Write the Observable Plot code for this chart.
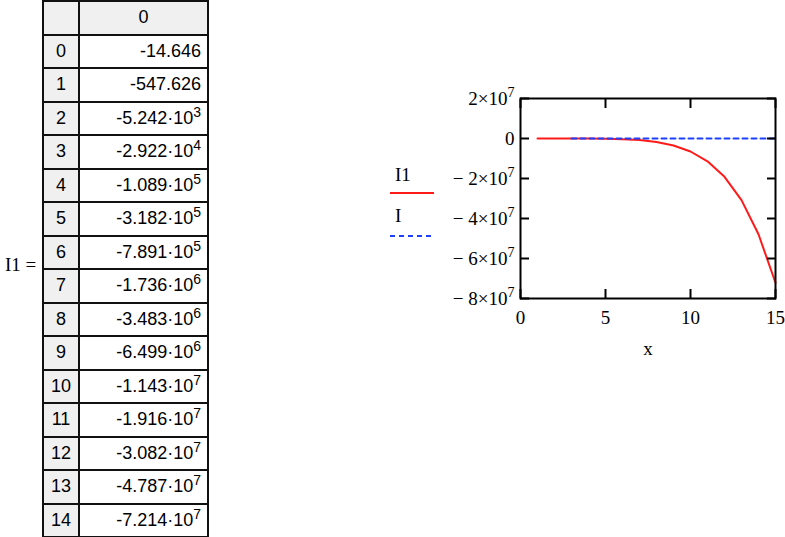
<!DOCTYPE html>
<html>
<head>
<meta charset="utf-8">
<script src="https://cdn.jsdelivr.net/npm/d3@7"></script>
<script src="https://cdn.jsdelivr.net/npm/@observablehq/plot@0.6"></script>
<style>
  html, body { margin: 0; padding: 0; background: #fff; }
  #page { position: relative; width: 785px; height: 537px; overflow: hidden; background: #fff; }
  #tbl { position: absolute; left: 42px; top: 0px; border-collapse: collapse; font-family: "Liberation Sans", Arial, sans-serif; font-size: 18px; color: #000; }
  #tbl td { border: 2px solid #111; height: 33.5px; padding: 0; box-sizing: border-box; }
  #tbl td.idx { width: 36px; background: #f0f0f0; text-align: center; }
  #tbl td.val { width: 129px; text-align: right; padding-right: 6px; }
  #tbl td.hdr { background: #f0f0f0; text-align: center; padding-right: 0; }
  #tbl sup { font-size: 14px; vertical-align: 7px; line-height: 0; }
  #eq { position: absolute; left: 5px; top: 254px; font-family: "Liberation Serif", "Times New Roman", serif; font-size: 19px; }
  #chart { position: absolute; left: 420px; top: 80px; }
  .leg { position: absolute; font-family: "Liberation Serif", "Times New Roman", serif; font-size: 19px; }
</style>
</head>
<body>
<div id="page">
  <table id="tbl"></table>
  <div id="eq">I1 =</div>
  <div class="leg" style="left:395px; top:164px;">I1</div>
  <div class="leg" style="left:395px; top:205px;">I</div>
  <svg style="position:absolute; left:388px; top:188px;" width="48" height="10">
    <line x1="2" x2="46" y1="5" y2="5" stroke="#ff1a1a" stroke-width="2"></line>
  </svg>
  <svg style="position:absolute; left:388px; top:231px;" width="48" height="10">
    <line x1="2" x2="46" y1="5" y2="5" stroke="#1f3fff" stroke-width="2" stroke-dasharray="5,4"></line>
  </svg>
  <div id="chart"></div>
</div>
<script>
// ---- data ----
const rowIndex = [0, 1, 2, 3, 4, 5, 6, 7, 8, 9, 10, 11, 12, 13, 14];
const xValues = [1, 2, 3, 4, 5, 6, 7, 8, 9, 10, 11, 12, 13, 14, 15];
const I1Values = [-14.646, -547.626, -5242, -29220, -108900, -318200, -789100,
  -1736000, -3483000, -6499000, -11430000, -19160000, -30820000, -47870000, -72140000];
const IxValues = [3, 4, 5, 6, 7, 8, 9, 10, 11, 12, 13, 14, 15];
const IValues = [0, 0, 0, 0, 0, 0, 0, 0, 0, 0, 0, 0, 0];
const xTicks = [0, 5, 10, 15];
const yTicks = [20000000, 0, -20000000, -40000000, -60000000, -80000000];
const yTickLabels = ["2×10", "0", "− 2×10", "− 4×10", "− 6×10", "− 8×10"];
const yTickExponents = ["7", "", "7", "7", "7", "7"];
const columnHeader = "0";

// ---- table ----
function fmt(v) {
  const a = Math.abs(v);
  if (a < 1000) return d3.format(".3f")(v).replace("−", "-");
  const e = Math.floor(Math.log10(a));
  const m = v / Math.pow(10, e);
  return m.toFixed(3) + "·10<sup>" + e + "</sup>";
}
const tbl = d3.select("#tbl");
const hdr = tbl.append("tr");
hdr.append("td").attr("class", "idx");
hdr.append("td").attr("class", "val hdr").text(columnHeader);
rowIndex.forEach((r, i) => {
  const tr = tbl.append("tr");
  tr.append("td").attr("class", "idx").text(r);
  tr.append("td").attr("class", "val").html(fmt(I1Values[i]));
});

// ---- chart ----
const lineData = xValues.map((x, i) => ({x, y: I1Values[i]}));
const iData = IxValues.map((x, i) => ({x, y: IValues[i]}));

const chart = Plot.plot({
  width: 365, height: 290,
  marginLeft: 100, marginRight: 10, marginTop: 18, marginBottom: 72,
  style: {fontFamily: "'Liberation Serif', 'Times New Roman', serif", fontSize: "19px", color: "#000", background: "transparent", overflow: "visible"},
  x: {domain: [0, 15], label: null},
  y: {domain: [-80000000, 20000000], label: null},
  marks: [
    Plot.line(lineData, {x: "x", y: "y", stroke: "#ff1a1a", strokeWidth: 2}),
    Plot.line(iData, {x: "x", y: "y", stroke: "#1f3fff", strokeWidth: 2, strokeDasharray: "5,4"}),
    Plot.frame({stroke: "#000", strokeWidth: 2}),
    Plot.axisX(xTicks, {anchor: "bottom", tickSize: -9, fill: "none", strokeWidth: 2}),
    Plot.axisX(xTicks, {anchor: "top", tickSize: -9, fill: "none", strokeWidth: 2}),
    Plot.axisY(yTicks, {anchor: "left", tickSize: -9, fill: "none", strokeWidth: 2}),
    Plot.axisY(yTicks, {anchor: "right", tickSize: -9, fill: "none", strokeWidth: 2}),
    Plot.axisX(xTicks, {anchor: "bottom", tickSize: 0, tickPadding: 12, fontSize: 19}),
    Plot.axisY(yTicks, {anchor: "left", tickSize: 0, tickPadding: 6, fontSize: 19,
      tickFormat: d => yTickLabels[yTicks.indexOf(d)] + "\u0001" + yTickExponents[yTicks.indexOf(d)]}),
    Plot.text(["x"], {frameAnchor: "bottom", dy: 56, fontSize: 19, text: d => d})
  ]
});
// render exponents as raised superscripts
d3.select(chart).selectAll("text").each(function() {
  const t = d3.select(this);
  const s = t.text();
  if (s.includes("\u0001")) {
    const [base, exp] = s.split("\u0001");
    t.text(null);
    t.append("tspan").text(base);
    if (exp) t.append("tspan").attr("dy", "-0.55em").attr("font-size", "14px").text(exp);
  }
});
document.getElementById("chart").appendChild(chart);
</script>
</body>
</html>
